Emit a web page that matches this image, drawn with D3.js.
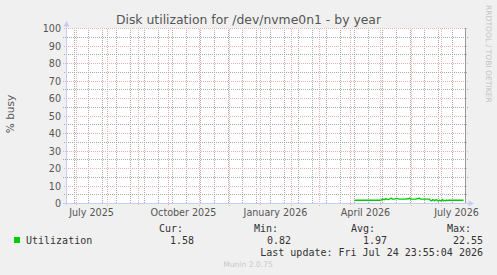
<!DOCTYPE html>
<html>
<head>
<meta charset="utf-8">
<script src="https://cdn.jsdelivr.net/npm/d3@7"></script>
<style>
  html, body { margin: 0; padding: 0; background: #f0f0f0; }
  svg { display: block; }
</style>
</head>
<body>
<script>
// Munin "Disk utilization ... by year" (rrdtool style)
const W = 497, H = 275;

// data: daily % busy, only the last ~110 days exist
const days = [
  "2026-04-05", "2026-04-12", "2026-04-20", "2026-04-30", "2026-05-02", "2026-05-03",
  "2026-05-04", "2026-05-05", "2026-05-06", "2026-05-07", "2026-05-08", "2026-05-10",
  "2026-05-11", "2026-05-12", "2026-05-13", "2026-05-15", "2026-05-17", "2026-05-18",
  "2026-05-20", "2026-05-25", "2026-05-29", "2026-05-30", "2026-05-31", "2026-06-05",
  "2026-06-09", "2026-06-10", "2026-06-15", "2026-06-19", "2026-06-20", "2026-06-21",
  "2026-06-22", "2026-06-23", "2026-06-24", "2026-06-25", "2026-06-26", "2026-06-27",
  "2026-06-28", "2026-06-29", "2026-06-30", "2026-07-01", "2026-07-02", "2026-07-03",
  "2026-07-04", "2026-07-05", "2026-07-06", "2026-07-07", "2026-07-08", "2026-07-10",
  "2026-07-15", "2026-07-20", "2026-07-23"
];
const busy = [
  1.6, 1.6, 1.6, 1.6, 1.7, 2.3,
  2.2, 1.9, 2.4, 2.3, 2.0, 2.2,
  2.6, 2.7, 2.3, 2.2, 2.6, 2.5,
  2.2, 2.2, 2.4, 2.8, 2.3, 2.2,
  2.7, 2.3, 2.2, 2.2, 1.5, 1.3,
  1.8, 1.7, 1.3, 1.8, 1.9, 1.4,
  1.2, 1.6, 1.4, 1.2, 1.9, 1.3,
  1.5, 1.3, 1.7, 1.4, 1.6, 1.6,
  1.6, 1.6, 1.58
];

const yTicks = [0, 10, 20, 30, 40, 50, 60, 70, 80, 90, 100];
const xLabelMonths = ["2025-07-01", "2025-10-01", "2026-01-01", "2026-04-01", "2026-07-01"];
const statHeads = ["Cur:", "Min:", "Avg:", "Max:"];
const statVals = ["1.58", "0.82", "1.97", "22.55"];

const title = "Disk utilization for /dev/nvme0n1 - by year";
const lastUpdate = "Last update: Fri Jul 24 23:55:04 2026";

const end = Date.UTC(2026, 6, 24, 23, 55, 4);
const start = end - 400 * 864e5;

const x = d3.scaleUtc().domain([new Date(start), new Date(end)]).range([65, 465]);
const y = d3.scaleLinear().domain([0, 100]).range([203, 28]);

const svg = d3.select("body").append("svg")
  .attr("width", W).attr("height", H)
  .attr("font-family", "DejaVu Sans");

// 2x2 checker patterns give rrdtool's one-on/one-off dotted grid
const defs = svg.append("defs");
function dotPattern(id, col) {
  const p = defs.append("pattern").attr("id", id)
    .attr("patternUnits", "userSpaceOnUse").attr("width", 2).attr("height", 2);
  p.append("rect").attr("x", 0).attr("y", 0).attr("width", 1).attr("height", 1).attr("fill", col);
  p.append("rect").attr("x", 1).attr("y", 1).attr("width", 1).attr("height", 1).attr("fill", col);
}
dotPattern("dmin", "#a9a9a9");
dotPattern("dmaj", "#ecb0b0");

svg.append("rect").attr("width", W).attr("height", H).attr("fill", "#f0f0f0");
svg.append("rect").attr("x", 66).attr("y", 28).attr("width", 400).attr("height", 175).attr("fill", "#ffffff");

const g = svg.append("g").attr("shape-rendering", "crispEdges");

// vertical grid: minor every 2 weeks, major every month
const months = d3.utcMonth.range(new Date(start), new Date(end));
const monthSet = new Set(months.map(d => Math.round(x(d))));
const weeks = d3.utcSunday.range(d3.utcSunday.floor(new Date(start)), new Date(end), 2)
  .filter(d => x(d) >= 67 && !monthSet.has(Math.round(x(d))));
g.selectAll("rect.vmin").data(weeks).join("rect").attr("class", "vmin")
  .attr("x", d => Math.round(x(d))).attr("width", 1)
  .attr("y", 28).attr("height", 175).attr("fill", "url(#dmin)");
g.selectAll("rect.vmaj").data(months).join("rect").attr("class", "vmaj")
  .attr("x", d => Math.round(x(d))).attr("width", 1)
  .attr("y", 28).attr("height", 178).attr("fill", "url(#dmaj)");

// horizontal grid
const minorY = d3.range(5, 100, 10);
g.selectAll("rect.hmin").data(minorY).join("rect").attr("class", "hmin")
  .attr("x", 63).attr("width", 405)
  .attr("y", d => Math.round(y(d))).attr("height", 1).attr("fill", "url(#dmin)");
g.selectAll("rect.hmaj").data(yTicks).join("rect").attr("class", "hmaj")
  .attr("x", 63).attr("width", 405)
  .attr("y", d => Math.round(y(d))).attr("height", 1).attr("fill", "url(#dmaj)");

// data line
const pts = days.map((d, i) => [new Date(d + "T12:00:00Z"), busy[i]]);
svg.append("path").datum(pts)
  .attr("fill", "none").attr("stroke", "#00cc00").attr("stroke-width", 1.4)
  .attr("d", d3.line().x(d => x(d[0])).y(d => y(d[1])));

// right edge rule
g.append("rect").attr("x", 465).attr("width", 1).attr("y", 28).attr("height", 175).attr("fill", "#999");

// axes
const axCol = "#c8ccf4";
g.append("rect").attr("x", 66).attr("width", 1).attr("y", 24).attr("height", 181).attr("fill", axCol);
g.append("rect").attr("x", 63).attr("width", 407).attr("y", 203).attr("height", 1).attr("fill", axCol);
svg.append("path").attr("d", "M63.5,26.5 L66.5,21 L69.5,26.5 Z").attr("fill", axCol);
svg.append("path").attr("d", "M468.5,200.5 L474,203.5 L468.5,206.5 Z").attr("fill", axCol);

// y labels
svg.selectAll("text.yl").data(yTicks).join("text").attr("class", "yl")
  .attr("x", 61).attr("y", d => y(d) + 4)
  .attr("text-anchor", "end").attr("font-size", 9.6).attr("fill", "#555")
  .text(d => d);

// x labels, centred half a month after the tick
svg.selectAll("text.xl").data(xLabelMonths).join("text").attr("class", "xl")
  .attr("x", d => x(new Date(Date.parse(d + "T00:00:00Z") + 15.5 * 864e5)))
  .attr("y", 216)
  .attr("text-anchor", "middle").attr("font-size", 9.6).attr("fill", "#555")
  .text(d => d3.utcFormat("%B %Y")(new Date(d + "T00:00:00Z")));

// title
svg.append("text").attr("x", 248.5).attr("y", 24).attr("text-anchor", "middle")
  .attr("font-size", 12.4).attr("fill", "#555").text(title);

// y axis title
svg.append("text").attr("transform", "translate(14,114) rotate(-90)")
  .attr("text-anchor", "middle").attr("font-size", 10.5).attr("fill", "#555").text("% busy");

// watermark
svg.append("text").attr("transform", "translate(485.5,5) rotate(90)")
  .attr("font-size", 7.6).attr("fill", "#c4c4c4").text("RRDTOOL / TOBI OETIKER");

// legend
const mono = "DejaVu Sans Mono";
svg.append("rect").attr("x", 14).attr("y", 237).attr("width", 6).attr("height", 6).attr("fill", "#00cc00");
svg.append("text").attr("x", 26).attr("y", 243.5).attr("font-family", mono).attr("font-size", 10)
  .attr("fill", "#333").text("Utilization");
const headX = [159, 254, 351, 447];
const valEnd = [194, 291, 387, 483];
svg.selectAll("text.sh").data(statHeads).join("text").attr("class", "sh")
  .attr("x", (d, i) => headX[i]).attr("y", 232)
  .attr("font-family", mono).attr("font-size", 10).attr("fill", "#333").text(d => d);
svg.selectAll("text.sv").data(statVals).join("text").attr("class", "sv")
  .attr("x", (d, i) => valEnd[i]).attr("y", 243.5).attr("text-anchor", "end")
  .attr("font-family", mono).attr("font-size", 10).attr("fill", "#333").text(d => d);
svg.append("text").attr("x", 483).attr("y", 255.5).attr("text-anchor", "end")
  .attr("font-family", mono).attr("font-size", 10).attr("fill", "#333").text(lastUpdate);

svg.append("text").attr("x", 248).attr("y", 267).attr("text-anchor", "middle")
  .attr("font-size", 7.6).attr("fill", "#c8c8c8").text("Munin 2.0.75");
</script>
</body>
</html>
